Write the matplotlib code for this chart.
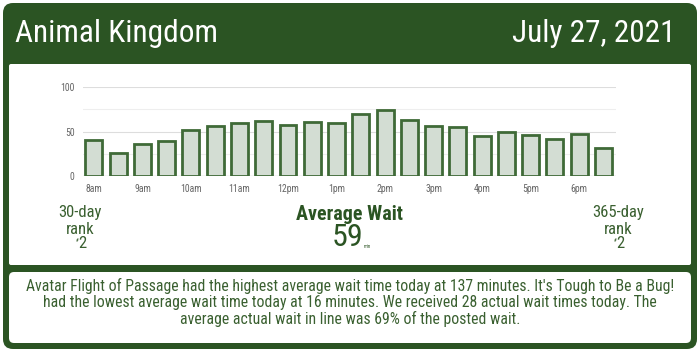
import matplotlib

matplotlib.use("Agg")
import matplotlib.pyplot as plt
from matplotlib import font_manager
from matplotlib.patches import FancyBboxPatch

# data
park_name = "Animal Kingdom"
date_label = "July 27, 2021"
avg_waits = [40, 26, 36, 39, 52, 56, 59, 62, 57, 61, 60, 70, 74, 63, 56, 55, 45, 49, 46, 42, 47, 32]
hour_labels = ["8am", "9am", "10am", "11am", "12pm", "1pm", "2pm", "3pm", "4pm", "5pm", "6pm"]
y_ticks = [0, 50, 100]
average_wait = 59
rank_30 = 2
rank_365 = 2
summary_lines = [
    "Avatar Flight of Passage had the highest average wait time today at 137 minutes. It's Tough to Be a Bug!",
    "had the lowest average wait time today at 16 minutes. We received 28 actual wait times today. The",
    "average actual wait in line was 69% of the posted wait.",
]

DARK_GREEN = "#2b5423"
TEXT_GREEN = "#3a6030"
BAR_FACE = "#d3ddd3"
BAR_EDGE = "#3f6a37"
GRID_MAIN = "#dddddd"
GRID_MINOR = "#eeeeee"
TICK_GRAY = "#666666"

# the reference uses a condensed face; fall back to Liberation Sans at a smaller size
installed = {f.name for f in font_manager.fontManager.ttflist}
FONT = "Liberation Sans"
SCALE = 0.84
for name in ["Liberation Sans Narrow", "Roboto Condensed", "DejaVu Sans Condensed"]:
    if name in installed:
        FONT = name
        SCALE = 1.0
        break
plt.rcParams["font.family"] = [FONT, "DejaVu Sans"]


def fs(size):
    return size * SCALE


W, H = 700, 352
fig = plt.figure(figsize=(W / 100, H / 100), dpi=100)
fig.patch.set_facecolor("white")

# background layer in pixel coords
bg = fig.add_axes([0, 0, 1, 1])
bg.set_xlim(0, W)
bg.set_ylim(H, 0)
bg.axis("off")
bg.add_patch(FancyBboxPatch((3, 3), W - 6, H - 6, boxstyle="round,pad=0,rounding_size=10",
                            facecolor=DARK_GREEN, edgecolor="none"))
bg.add_patch(FancyBboxPatch((9, 64), W - 18, 201, boxstyle="round,pad=0,rounding_size=2",
                            facecolor="white", edgecolor="none"))
bg.add_patch(FancyBboxPatch((9, 272), W - 18, 71, boxstyle="round,pad=0,rounding_size=5",
                            facecolor="white", edgecolor="none"))

bg.text(15, 34, park_name, color="white", fontsize=fs(22.5), va="center", ha="left")
bg.text(676, 34, date_label, color="white", fontsize=fs(22.5), va="center", ha="right")

# rank columns and average wait
for x, label, rank in [(80, "30-day", rank_30), (618, "365-day", rank_365)]:
    bg.text(x, 213, label, color=TEXT_GREEN, fontsize=fs(12), ha="center", va="center")
    bg.text(x, 229, "rank", color=TEXT_GREEN, fontsize=fs(12), ha="center", va="center")
    bg.text(x + 2, 244, str(rank), color=TEXT_GREEN, fontsize=fs(12), ha="center", va="center")
    bg.text(x - 2, 241, "#", color=TEXT_GREEN, fontsize=3.5, ha="right", va="center")

bg.text(350, 215, "Average Wait", color=DARK_GREEN, fontsize=fs(14.5), fontweight="bold",
        ha="center", va="center")
bg.text(348, 238, str(average_wait), color=DARK_GREEN, fontsize=fs(23), ha="center", va="center")
bg.text(364, 247, "min", color=DARK_GREEN, fontsize=3.5, ha="left", va="center")

for i, line in enumerate(summary_lines):
    bg.text(350, 286 + i * 16.5, line, color=TEXT_GREEN, fontsize=fs(11.3), ha="center", va="center")

# bar chart
ax = fig.add_axes([83 / W, 1 - 176 / H, (616 - 83) / W, (176 - 87) / H])
x = list(range(len(avg_waits)))
ax.bar(x, avg_waits, width=0.7, color=BAR_FACE, edgecolor=BAR_EDGE, linewidth=2, zorder=3)
ax.set_xlim(-0.45, len(avg_waits) - 0.48)
ax.set_ylim(0, 100)
for v in [25, 75]:
    ax.axhline(v, color=GRID_MINOR, linewidth=0.8, zorder=1)
for v in [50, 100]:
    ax.axhline(v, color=GRID_MAIN, linewidth=0.8, zorder=1)
ax.axhline(0, color="#cccccc", linewidth=1, zorder=2)
ax.set_yticks(y_ticks)
ax.set_xticks(x[::2])
ax.set_xticklabels(hour_labels)
ax.tick_params(axis="both", length=0, labelsize=fs(7), colors=TICK_GRAY, pad=6)
for spine in ax.spines.values():
    spine.set_visible(False)
ax.set_facecolor("none")

fig.savefig("out.png", dpi=100, facecolor="white")
